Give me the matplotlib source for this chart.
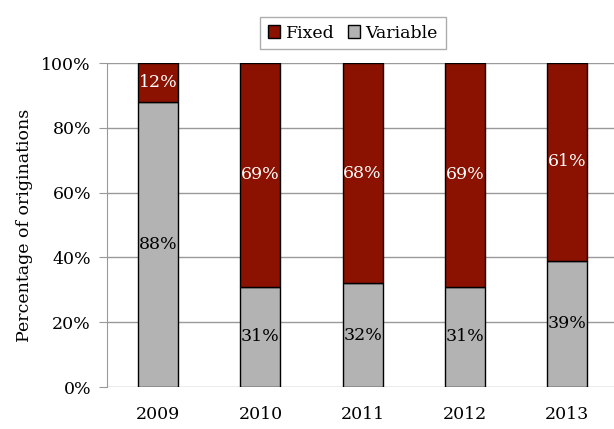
import matplotlib
matplotlib.use("Agg")
import matplotlib.pyplot as plt
import numpy as np

years = ["2009", "2010", "2011", "2012", "2013"]
variable = [88, 31, 32, 31, 39]
fixed = [12, 69, 68, 69, 61]
yticks = [0, 20, 40, 60, 80, 100]

plt.rcParams['font.family'] = ['DejaVu Serif']
FS = 12.5

fig = plt.figure(figsize=(6.14, 4.29), dpi=100)
ax = fig.add_axes([107/614, 1-387/429, (614-107)/614, (387-63)/429])

x = np.arange(len(years))
w = 0.39
ax.bar(x, variable, w, color='#b3b3b3', edgecolor='black', linewidth=1.0, label='Variable', zorder=3)
ax.bar(x, fixed, w, bottom=variable, color='#8b1100', edgecolor='black', linewidth=1.0, label='Fixed', zorder=3)

for xi, v, f in zip(x, variable, fixed):
    ax.text(xi, v/2, f"{v}%", ha='center', va='center', fontsize=FS, color='black', zorder=4)
    ax.text(xi, v + f/2, f"{f}%", ha='center', va='center', fontsize=FS, color='white', zorder=4)

ax.set_xlim(-0.5, 4.458)
ax.set_ylim(0, 100)
ax.set_yticks(yticks)
ax.set_yticklabels([f"{t}%" for t in yticks], fontsize=FS)
ax.set_xticks(x)
ax.set_xticklabels(years, fontsize=FS)
ax.tick_params(axis='x', length=0, pad=14)
ax.tick_params(axis='y', length=5.5, color='#999999', pad=6)
ax.yaxis.grid(True, color='#999999', linewidth=1.0, zorder=0)
for s in ['top', 'right', 'bottom']:
    ax.spines[s].set_visible(False)
ax.spines['left'].set_color('#999999')
ax.set_ylabel('Percentage of originations', fontsize=FS, labelpad=6)

handles, labels = ax.get_legend_handles_labels()
leg = fig.legend(handles[::-1], labels[::-1], loc='center', bbox_to_anchor=(353/614, 1-33/429),
                 ncol=2, fontsize=FS, frameon=True, fancybox=False, edgecolor='#999999',
                 handlelength=0.7, handleheight=0.7, handletextpad=0.3, columnspacing=0.8,
                 borderpad=0.45)
leg.get_frame().set_linewidth(1.0)

fig.savefig('out.png', dpi=100)
